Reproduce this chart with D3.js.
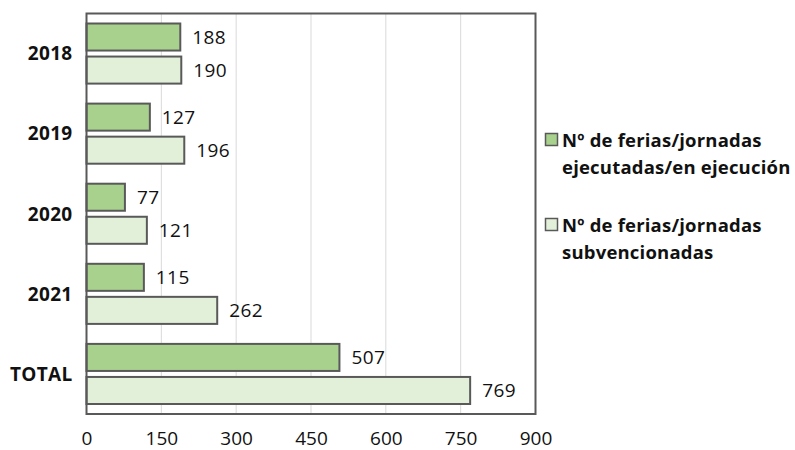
<!DOCTYPE html>
<html>
<head>
<meta charset="utf-8">
<script src="https://cdn.jsdelivr.net/npm/d3@7"></script>
<style>
  body { margin: 0; background: #fff; }
  svg text { font-family: "Open Sans", Lato, sans-serif; fill: #111; }
</style>
</head>
<body>
<div id="chart"></div>
<script>
var categories = ["2018", "2019", "2020", "2021", "TOTAL"];
var ejecutadas = [188, 127, 77, 115, 507];
var subvencionadas = [190, 196, 121, 262, 769];
var legendLines = [["Nº de ferias/jornadas", "ejecutadas/en ejecución"], ["Nº de ferias/jornadas", "subvencionadas"]];
var xTicks = [0, 150, 300, 450, 600, 750, 900];

var colors = ["#a9d18e", "#e2f0d9"];
var stroke = "#595959";

var margin = {top: 13.5, left: 86.5},
    width = 449,
    height = 400.5;

var svg = d3.select("#chart").append("svg")
    .attr("width", 795)
    .attr("height", 450);

var g = svg.append("g")
    .attr("transform", "translate(" + margin.left + "," + margin.top + ")");

var x = d3.scaleLinear().domain([0, 900]).range([0, width]);

var y0 = d3.scaleBand().domain(categories).range([0, height]).padding(0);
var y1 = d3.scaleBand().domain([0, 1])
    .range([10, y0.bandwidth() - 10])
    .paddingInner(0.1818);

// gridlines
g.selectAll(".grid").data(xTicks.slice(1, -1))
  .enter().append("line")
    .attr("x1", function(d) { return x(d); })
    .attr("x2", function(d) { return x(d); })
    .attr("y1", 0)
    .attr("y2", height)
    .style("stroke", "#d9d9d9")
    .style("stroke-width", 1);

var rows = categories.map(function(c, i) {
  return {cat: c, values: [ejecutadas[i], subvencionadas[i]]};
});

var groups = g.selectAll(".grp").data(rows)
  .enter().append("g")
    .attr("transform", function(d) { return "translate(0," + y0(d.cat) + ")"; });

groups.selectAll("rect").data(function(d) { return d.values; })
  .enter().append("rect")
    .attr("x", x(0))
    .attr("y", function(d, i) { return y1(i); })
    .attr("width", function(d) { return x(d) - x(0); })
    .attr("height", y1.bandwidth())
    .style("fill", function(d, i) { return colors[i]; })
    .style("stroke", stroke)
    .style("stroke-width", 2);

groups.selectAll(".val").data(function(d) { return d.values; })
  .enter().append("text")
    .attr("x", function(d) { return x(d) + 12; })
    .attr("y", function(d, i) { return y1(i) + y1.bandwidth() / 2; })
    .attr("dy", "0.36em")
    .style("font-size", "19px")
    .style("letter-spacing", "0.4px")
    .text(function(d) { return d; });

// category labels
g.selectAll(".cat").data(categories)
  .enter().append("text")
    .attr("x", -14)
    .attr("y", function(d) { return y0(d) + y0.bandwidth() / 2; })
    .attr("dy", "0.36em")
    .attr("text-anchor", "end")
    .style("font-size", "19px")
    .style("font-weight", "bold")
    .style("letter-spacing", "0.3px")
    .text(function(d) { return d; });

// plot border
g.append("rect")
    .attr("x", 0).attr("y", 0)
    .attr("width", width).attr("height", height)
    .style("fill", "none")
    .style("stroke", stroke)
    .style("stroke-width", 2);

// x axis
var xAxis = d3.axisBottom(x).tickValues(xTicks).tickSize(0).tickPadding(0);
var axisG = g.append("g")
    .attr("transform", "translate(0," + (height + 24) + ")")
    .call(xAxis);
axisG.select(".domain").remove();
axisG.selectAll("text")
    .style("font-size", "19px")
    .style("font-family", "'Open Sans', Lato, sans-serif")
    .style("fill", "#111")
    .attr("dy", "0.36em")
    .attr("y", 0);

// legend
var legend = svg.append("g").attr("transform", "translate(545,0)");
var legendY = [140, 225];
legendLines.forEach(function(lines, i) {
  legend.append("rect")
      .attr("x", 0.5)
      .attr("y", legendY[i] - 6.5)
      .attr("width", 12)
      .attr("height", 12)
      .style("fill", colors[i])
      .style("stroke", stroke)
      .style("stroke-width", 1.5);
  lines.forEach(function(t, j) {
    legend.append("text")
        .attr("x", 17)
        .attr("y", legendY[i] + j * 27)
        .attr("dy", "0.36em")
        .style("font-size", "18.5px")
        .style("font-weight", "bold")
        .style("letter-spacing", "0.2px")
        .text(t);
  });
});
</script>
</body>
</html>
